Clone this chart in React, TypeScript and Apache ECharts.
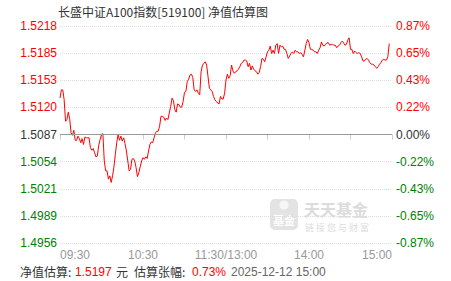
import React, { useEffect, useRef } from "react";
import * as echarts from "echarts";

const BASE_NAV = 1.5087;
const TITLE = "长盛中证A100指数[519100] 净值估算图";
const FOOT_NAV = "1.5197";
const FOOT_PCT = "0.73%";
const FOOT_TIME = "2025-12-12 15:00";

// Left/right tick labels, bottom to top
const navLabels = ["1.4956", "1.4989", "1.5021", "1.5054", "1.5087", "1.5120", "1.5153", "1.5185", "1.5218"];
const pctLabels = ["-0.87%", "-0.65%", "-0.43%", "-0.22%", "0.00%", "0.22%", "0.43%", "0.65%", "0.87%"];
const AXIS_MIN = -0.87;
const AXIS_MAX = 0.87;
const AXIS_STEP = 0.2175;

// Estimated NAV, 09:30 - 11:30
const navAM = [
  1.5131, 1.5141, 1.5141, 1.5129, 1.5103, 1.5105, 1.5114, 1.5106, 1.5089, 1.5086,
  1.5092, 1.5080, 1.5080, 1.5085, 1.5082, 1.5077, 1.5082, 1.5075, 1.5084, 1.5083,
  1.5083, 1.5083, 1.5071, 1.5068, 1.5070, 1.5065, 1.5060, 1.5061, 1.5074, 1.5081,
  1.5087, 1.5088, 1.5055, 1.5043, 1.5043, 1.5033, 1.5037, 1.5029, 1.5037, 1.5048,
  1.5063, 1.5077, 1.5087, 1.5080, 1.5085, 1.5079, 1.5083, 1.5076, 1.5067, 1.5055,
  1.5043, 1.5045, 1.5057, 1.5058, 1.5055, 1.5047, 1.5036, 1.5041, 1.5048, 1.5055,
  1.5059, 1.5057, 1.5060, 1.5058, 1.5067, 1.5075, 1.5078, 1.5077, 1.5083, 1.5089,
  1.5091, 1.5091, 1.5097, 1.5109, 1.5109, 1.5108, 1.5104, 1.5107, 1.5105, 1.5113,
  1.5121, 1.5131, 1.5128, 1.5117, 1.5114, 1.5124, 1.5123, 1.5120, 1.5120, 1.5127,
  1.5138, 1.5139, 1.5151, 1.5154, 1.5159, 1.5160, 1.5156, 1.5141, 1.5139, 1.5141,
  1.5137, 1.5135, 1.5163, 1.5171, 1.5173, 1.5175, 1.5171, 1.5157, 1.5143, 1.5141,
  1.5139, 1.5133, 1.5129, 1.5127, 1.5125, 1.5124, 1.5133, 1.5130, 1.5130, 1.5137,
  1.5153,
];

// Estimated NAV, 13:01 - 14:58
const navPM = [
  1.5160, 1.5155, 1.5158, 1.5171, 1.5164, 1.5161, 1.5163, 1.5164, 1.5166, 1.5169,
  1.5173, 1.5174, 1.5177, 1.5177, 1.5176, 1.5169, 1.5173, 1.5165, 1.5170, 1.5166,
  1.5164, 1.5163, 1.5160, 1.5162, 1.5169, 1.5179, 1.5178, 1.5175, 1.5181, 1.5187,
  1.5189, 1.5194, 1.5185, 1.5189, 1.5185, 1.5195, 1.5197, 1.5185, 1.5195, 1.5193,
  1.5194, 1.5190, 1.5190, 1.5185, 1.5179, 1.5182, 1.5185, 1.5187, 1.5185, 1.5189,
  1.5187, 1.5187, 1.5185, 1.5186, 1.5184, 1.5181, 1.5189, 1.5197, 1.5202, 1.5198,
  1.5190, 1.5190, 1.5189, 1.5187, 1.5187, 1.5185, 1.5189, 1.5192, 1.5199, 1.5195,
  1.5194, 1.5196, 1.5198, 1.5198, 1.5195, 1.5196, 1.5196, 1.5195, 1.5195, 1.5192,
  1.5194, 1.5195, 1.5198, 1.5200, 1.5198, 1.5195, 1.5196, 1.5201, 1.5204, 1.5190,
  1.5190, 1.5185, 1.5188, 1.5186, 1.5185, 1.5186, 1.5185, 1.5181, 1.5176, 1.5176,
  1.5178, 1.5179, 1.5177, 1.5174, 1.5172, 1.5172, 1.5171, 1.5169, 1.5167, 1.5169,
  1.5172, 1.5174, 1.5177, 1.5178, 1.5177, 1.5177, 1.5181, 1.5197,
];

const pad = (n: number) => (n < 10 ? "0" + n : "" + n);
const fmtMin = (m: number) => pad(Math.floor(m / 60)) + ":" + pad(m % 60);
const times: string[] = [];
for (let m = 9 * 60 + 30; m <= 11 * 60 + 30; m++) times.push(fmtMin(m));
for (let m = 13 * 60 + 1; m <= 15 * 60; m++) times.push(fmtMin(m));

const RED = "#ff0000";
const GREEN = "#008000";
const FONT = "'Liberation Sans', 'Noto Sans CJK SC', sans-serif";
const CJK = "'Noto Sans CJK SC', sans-serif";

const footText = (x: number, text: string, fill: string, font: string) => ({
  type: "text",
  style: { x, y: 271.5, text, verticalAlign: "middle", fontSize: 12, fontFamily: font, fill },
});

export default function App() {
  const ref = useRef<HTMLDivElement>(null);
  useEffect(() => {
    if (!ref.current) return;
    const chart = echarts.init(ref.current, undefined, { renderer: "svg" });
    const nav = navAM.concat(navPM);
    const pct = nav.map((v) => (v / BASE_NAV - 1) * 100);
    const idxOf = (v: number) => Math.round((v - AXIS_MIN) / AXIS_STEP);
    const colorOf = (v: any) => {
      const n = Number(v);
      return n > 1e-6 ? RED : n < -1e-6 ? GREEN : "#333333";
    };
    chart.setOption({
      animation: false,
      backgroundColor: "#ffffff",
      grid: { left: 60, right: 59, top: 26, bottom: 38 },
      xAxis: {
        type: "category",
        data: times,
        boundaryGap: false,
        axisLine: { show: true, lineStyle: { color: "#c5cfdb", width: 1 } },
        axisTick: {
          show: true,
          length: 5,
          interval: (i: number) => i % 30 === 0,
          lineStyle: { color: "#c5cfdb" },
        },
        axisLabel: {
          interval: (i: number) => i % 60 === 0,
          formatter: (v: string, i: number) => (i === 120 ? "11:30/13:00" : v),
          color: "#999999",
          fontSize: 12,
          fontFamily: FONT,
          margin: 6,
          alignMinLabel: "left",
          alignMaxLabel: "right",
        },
        splitLine: { show: false },
      },
      yAxis: [
        {
          type: "value",
          min: AXIS_MIN,
          max: AXIS_MAX,
          interval: AXIS_STEP,
          position: "left",
          axisLine: { show: false },
          axisTick: { show: false },
          axisLabel: {
            formatter: (v: number) => navLabels[idxOf(v)] ?? "",
            color: colorOf,
            fontSize: 12,
            fontFamily: FONT,
            margin: 3,
          },
          splitLine: { show: true, lineStyle: { color: "#dddddd", type: "dotted", width: 1 } },
        },
        {
          type: "value",
          min: AXIS_MIN,
          max: AXIS_MAX,
          interval: AXIS_STEP,
          position: "right",
          axisLine: { show: false },
          axisTick: { show: false },
          axisLabel: {
            formatter: (v: number) => pctLabels[idxOf(v)] ?? "",
            color: colorOf,
            fontSize: 12,
            fontFamily: FONT,
            margin: 4,
          },
          splitLine: { show: false },
        },
      ],
      series: [
        {
          type: "line",
          data: pct,
          yAxisIndex: 0,
          symbol: "none",
          lineStyle: { color: RED, width: 1 },
          markLine: {
            silent: true,
            symbol: "none",
            label: { show: false },
            lineStyle: { color: "#999999", type: "solid", width: 1 },
            data: [{ yAxis: 0 }],
          },
        },
      ],
      graphic: [
        {
          type: "text",
          style: {
            x: 58,
            y: 11.5,
            text: TITLE,
            verticalAlign: "middle",
            fontSize: 12,
            fontFamily: CJK,
            fill: "#333333",
          },
        },
        {
          type: "group",
          z: -1,
          children: [
            { type: "rect", shape: { x: 270, y: 199, width: 28, height: 31, r: 5 }, style: { fill: "#e3e3e3" } },
            { type: "circle", shape: { cx: 284, cy: 205, r: 4.5 }, style: { fill: "#f6f6f6" } },
            {
              type: "text",
              style: {
                x: 284,
                y: 220,
                text: "基金",
                align: "center",
                verticalAlign: "middle",
                fontSize: 11,
                fontWeight: "bold",
                fontFamily: CJK,
                fill: "#ffffff",
              },
            },
            {
              type: "text",
              style: {
                x: 304,
                y: 208.5,
                text: "天天基金",
                verticalAlign: "middle",
                fontSize: 16,
                fontWeight: "bold",
                fontFamily: CJK,
                fill: "#dcdcdc",
              },
            },
            {
              type: "text",
              style: {
                x: 305,
                y: 227.5,
                text: "链 接 您 与 财 富",
                verticalAlign: "middle",
                fontSize: 9,
                fontFamily: CJK,
                fill: "#dcdcdc",
              },
            },
          ],
        },
        footText(20, "净值估算:", "#333333", CJK),
        footText(75, FOOT_NAV, RED, FONT),
        footText(116, "元", "#333333", CJK),
        footText(134, "估算张幅:", "#333333", CJK),
        footText(192, FOOT_PCT, RED, FONT),
        footText(231, FOOT_TIME, "#666666", FONT),
      ],
    });
    return () => chart.dispose();
  }, []);
  return (
    <div
      ref={ref}
      style={{ position: "fixed", left: 0, top: 0, width: 451, height: 281, background: "#fff" }}
    />
  );
}
